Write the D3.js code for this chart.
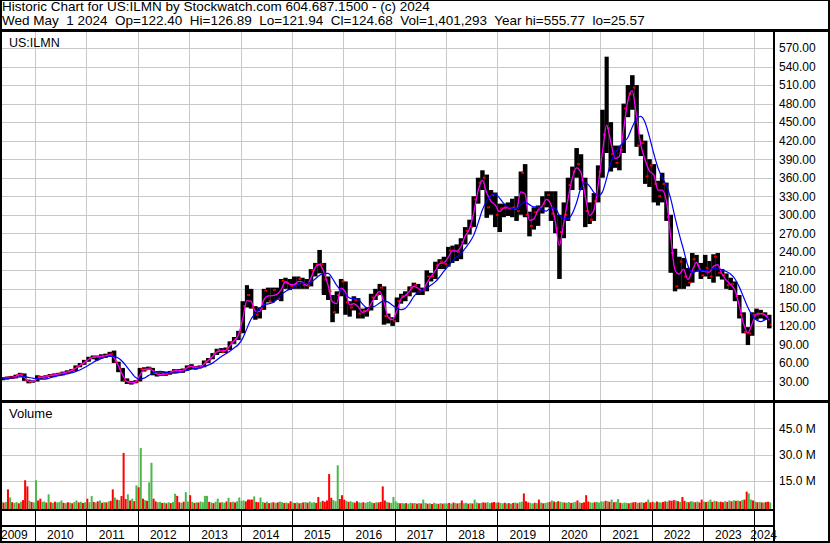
<!DOCTYPE html>
<html>
<head>
<meta charset="utf-8">
<script src="https://cdnjs.cloudflare.com/ajax/libs/d3/7.8.5/d3.min.js"></script>
<style>
  body { margin: 0; background: #fff; }
  svg text { font-family: "Liberation Sans", Arial, sans-serif; fill: #000; }
</style>
</head>
<body>
<svg id="chart"></svg>
<script>
// monthly bars May 2009 .. Apr 2024 (visible high / low / close)
var priceHigh = [37,38,39,41,44,43,33,32,
  40,39,40,42,43,44,46,48,50,56,60,65,
  70,72,72,74,75,78,80,62,52,35,31,32,
  52,53,54,52,45,45,46,47,50,50,51,56,
  58,55,56,64,68,76,83,84,85,95,102,112,
  160,186,180,152,150,180,182,182,182,196,198,196,
  200,200,198,196,212,222,243,222,200,170,176,196,
  192,160,168,165,148,150,172,180,188,184,140,134,
  166,172,176,184,190,188,182,210,206,224,228,232,
  248,250,252,262,280,292,330,360,372,365,340,336,
  318,318,320,326,330,370,382,305,312,315,330,338,
  338,338,300,320,360,378,408,398,360,320,335,380,
  470,556,450,412,412,480,510,526,510,430,420,390,
  382,355,368,352,300,245,232,230,214,238,235,222,
  235,225,236,238,212,205,198,192,170,142,118,142,
  148,146,142,138];
var priceLow = [32,33,34,35,38,31,27,28,
  30,34,35,37,37,39,40,42,44,47,53,57,
  62,66,64,67,68,70,60,45,30,26,25,27,
  30,46,49,40,38,39,39,41,44,44,44,48,
  50,49,51,53,60,66,73,76,76,81,91,97,
  108,150,148,130,132,146,158,158,162,160,180,178,
  180,180,180,180,184,200,205,170,162,126,140,168,
  138,135,145,132,132,135,145,162,170,122,124,120,
  126,156,160,168,174,170,170,176,192,196,212,212,
  216,222,225,228,252,268,280,318,340,295,300,280,
  272,296,298,296,290,300,296,265,276,282,302,312,
  290,270,196,262,290,340,360,340,280,285,290,320,
  360,400,370,376,372,400,458,470,410,395,350,345,
  320,315,320,290,206,176,180,180,184,190,208,196,
  200,196,190,200,195,180,178,160,132,108,89,104,
  130,132,130,116];
var priceClose = [35,37,36,40,42,32,29,31,
  38,36,39,40,41,43,44,46,49,54,58,63,
  68,70,70,71,72,75,62,50,31,29,28,30,
  50,49,52,44,41,42,42,46,48,47,49,55,
  54,52,54,62,66,75,81,78,82,93,99,110,
  152,170,150,138,148,177,160,178,164,193,190,185,
  188,196,186,185,210,219,220,195,176,142,170,192,
  158,150,162,140,144,145,166,170,182,136,132,128,
  160,168,170,182,186,176,178,200,200,218,224,220,
  242,242,240,256,274,280,325,352,360,312,332,300,
  310,312,310,312,306,368,300,282,304,310,318,332,
  302,278,272,300,348,370,382,356,306,292,322,370,
  430,440,398,384,405,472,496,506,412,416,362,380,
  350,330,350,296,238,184,224,200,190,228,218,202,
  214,200,232,206,202,186,188,168,138,110,108,138,
  140,140,136,122];

// short average (magenta) and long average (blue), one reading per month
var maShort = [35,36,36.5,38,41,37,30.5,30,
  34.5,37,37.5,39.5,40.5,42,43.5,45,47.5,51.5,56,60.5,
  65.5,69,70,70.5,71.5,73.5,68.5,56,40.5,30,28.5,29,
  40,49.5,50.5,48,42.5,41.5,42,44,47,47.5,48,52,
  54.5,53,53,58,64,70.5,78,79.5,80,87.5,96,104.5,
  131,161,160,144,143,162.5,168.5,169,171,178.5,191.5,187.5,
  186.5,192,191,185.5,197.5,214.5,219.5,207.5,185.5,159,156,181,
  175,154,156,151,142,144.5,155.5,168,176,159,134,130,
  144,164,169,176,184,181,177,189,200,209,221,222,
  231,242,241,248,265,277,302,338,356,336,322,316,
  305,311,311,311,309,337,334,291,293,307,314,325,
  317,290,250,286,324,359,376,369,331,299,307,346,
  400,445,419,391,394,438,484,501,459,414,389,371,
  365,340,340,323,267,211,204,212,195,209,223,210,
  208,207,216,219,204,194,187,178,153,124,109,123,
  139,140,138,129];
var maLong = [35,35.5,35.8,36.5,37.3,37.7,36.6,35.3,
  34.6,33.8,33.9,35.7,37.8,39.3,40.6,42.1,43.7,45.9,48.7,52.1,
  56.2,60.5,64.2,67.1,69.3,70.9,70.8,68,62,53.7,44.7,36.8,
  33.6,35.4,39.5,43.4,46.1,46.4,44.9,43.6,43.4,44.4,45.7,47.7,
  49.8,51,52.1,54.1,56.5,59.7,64.7,70,74.4,79.1,84.2,89.5,
  99.8,116,130.5,140.1,147.8,154.1,155.6,157.4,162.8,169.9,175.7,179.5,
  183,187.2,189.7,188.5,190.5,196.1,201.6,204.9,204.9,197.2,185.5,177.8,
  171.3,165,164.4,163.4,155.6,149.5,149.8,152.2,157.2,160.6,158.5,153.4,
  148.6,146.2,148.2,156.6,167.4,174.8,177.4,181.4,186.2,191.2,199.2,208.2,
  216.6,225,231.4,236.8,245.4,254.6,266.6,286,307.6,321.8,330.8,333.6,
  327,318,313,310.8,309.4,315.8,320.4,316.4,312.8,312.4,307.8,306,
  311.2,310.6,299.2,293.6,293.4,301.8,319,342.8,351.8,346.8,336.4,330.4,
  336.6,359.4,383.4,400.2,409.8,417.4,425.2,441.6,455.2,459.2,449.4,426.8,
  399.6,375.8,361,347.8,327,296.2,269,243.4,217.8,206.2,208.6,209.8,
  209,211.4,212.8,212,210.8,208,204,196.4,183.2,167.2,150.2,137.4,
  129.6,127,129.8,133.8];

// volume, millions of shares, two readings per month (tallest visible bar)
var volume = [3.5,2.8,3.2,10.3,5.7,3,2.6,3.1,2.4,3.3,4.2,15.5,12,3.8,3.1,2.9,
  15.5,4,5,3.2,3.4,2.8,7.5,3,2.6,3.3,2.9,3.1,4,2.7,2.5,3,2.8,2.4,3.2,4,2.9,3.3,2.6,3,
  5,3,6.5,3.2,2.8,3.5,4,2.7,3.1,2.9,3.4,3.8,10.3,5.7,4.5,4.2,6.5,31,4.8,7.5,4,5,3.6,12.6,
  11.5,33.8,5,4.2,3.8,14.3,25.4,5,3.5,3,3.2,2.6,2.8,2.4,3,2.5,3.1,7.8,6.6,3,2.7,3.3,8.7,3.4,
  7,3.2,2.6,3,2.8,3.4,3,6.6,6.6,3.2,2.9,2.5,3.3,5,2.8,3.1,2.7,3.4,5.5,3,3.3,2.9,3.6,5.7,
  3.8,4,3.5,4.5,4.5,4.5,6.3,3.2,3,5.7,3.1,2.7,3.3,2.5,2.8,3,2.6,2.9,3.4,3,2.6,2.8,2.4,3.5,
  2.8,2.5,2.9,2.4,2.6,2.9,3.1,2.7,3.4,2.8,3,2.6,6,3.2,3.8,3.3,4,19,5.5,4.2,3.6,24,4.8,7,
  4.5,3.8,3.2,3.5,3,2.8,3.6,2.9,2.7,3,2.6,3.1,3.4,2.8,2.5,3,2.9,3.2,12,4,3.2,2.8,2.6,6,
  3.5,2.7,2.4,2.6,2.3,2.5,2.2,2.7,2.4,2.6,2.2,2.5,2.3,4.5,2.6,2.2,2.4,2,2.7,2.3,2.1,2.5,2.2,2.4,
  2.3,2.6,2.2,2.8,2.5,2.3,2.6,4,2.4,2.7,2.2,2.5,2.3,4.5,2.8,2.4,2.6,2.9,2.7,3,2.5,2.8,3.1,2.7,
  2.9,2.6,2.4,2.7,2.3,2.5,2.2,2.6,2.8,2.4,3,3.3,8,3.6,2.9,2.6,2.3,2.7,2.5,4.5,2.8,2.4,2.6,2.9,
  3.2,4,3.4,3.1,3.6,3.3,3,2.8,2.7,3.1,2.6,2.9,3.2,4,2.8,2.6,3,7,3.4,2.9,2.7,3,3.2,2.8,
  3.5,3.3,3.8,3.6,3.2,4.5,3,3.2,4.8,2.7,2.5,2.8,2.6,2.4,2.7,2.9,3.1,2.6,2.8,3,2.7,3.2,4.5,2.9,
  3.2,2.8,3.4,3,2.8,3.1,3.5,3.3,4,3.8,4.2,4,3.6,3.2,6,3.8,3.2,3,3.6,3.3,3,3.4,2.9,4.5,
  3.4,3.1,3.5,4.5,3.2,3.8,3.5,3.1,3.3,3,3.6,3.2,4,3.5,4.1,3.8,4,3.6,4.2,4.5,9,8,4.5,4,
  3.4,3,3.2,2.9,2.8,3.1,3.3,2.9];
// u = up day colour (green), d = down day colour (red)
var volumeDir = ("udud uduu dudd dudu " +
  "uddu udud uduu udud uduu dudu " +
  "duud udud udud dudu dddu dudu " +
  "dudu duud duud udud uudd uduu " +
  "dudu duuu udud uudu udud uduu " +
  "uudd ddud duud udud uduu dudd " +
  "udud udud uuud dudd dddu uudd " +
  "dudu uddu uduu uudu dddd uduu " +
  "uudu uduu dudu duud uduu dudu " +
  "udud udud uudu duud uddu uddu " +
  "duud udud uduu dddu udud uduu " +
  "dudu duud uudu udud dddu uduu " +
  "uudu dudu uduu udud dudu ddud " +
  "dudu uddu dddu dudd uduu dudd " +
  "uduu dudu ddud udud udud duud " +
  "udud uddu").replace(/ /g, "").split("");

var priceTicks = [30, 60, 90, 120, 150, 180, 210, 240, 270, 300, 330, 360, 390, 420, 450, 480, 510, 540, 570];
var volumeTicks = [15, 30, 45];
var years = [2009, 2010, 2011, 2012, 2013, 2014, 2015, 2016, 2017, 2018, 2019, 2020, 2021, 2022, 2023, 2024];

var symbol = "US:ILMN";
var headerLine1 = "Historic Chart for US:ILMN by Stockwatch.com 604.687.1500 - (c) 2024";
var headerLine2 = "Wed May  1 2024  Op=122.40  Hi=126.89  Lo=121.94  Cl=124.68  Vol=1,401,293  Year hi=555.77  lo=25.57";

function drawChart() {
  var width = 830;
  var height = 543;
  var svg = d3.select("#chart").attr("width", width).attr("height", height);

  var plotLeft = 2, plotRight = 773;
  var priceTop = 32, priceBottom = 400;
  var volTop = 403, volBottom = 509;

  var start = new Date(2009, 4, 1);
  var end = new Date(2024, 4, 1);

  var x = d3.scaleTime().domain([start, end]).range([0.5, 771.3]);
  var y = d3.scaleLinear().domain([0, 600]).range([400, 29.5]);
  var yVol = d3.scaleLinear().domain([0, 45]).range([507.5, 428.3]);

  var months = d3.timeMonth.range(start, end);
  var bars = months.map(function(m, i) {
    return { date: m, next: d3.timeMonth.offset(m, 1), mid: d3.timeDay.offset(m, 15),
             hi: priceHigh[i], lo: priceLow[i], cl: priceClose[i],
             op: i > 0 ? priceClose[i - 1] : priceClose[i],
             s: maShort[i], l: maLong[i] };
  });
  var halves = [];
  months.forEach(function(m) { halves.push(m); halves.push(d3.timeDay.offset(m, 15)); });
  var vols = halves.map(function(d, i) { return { date: d, v: volume[i], dir: volumeDir[i] }; });

  var yearStarts = years.slice(1).map(function(yr) { return new Date(yr, 0, 1); });

  svg.append("rect").attr("width", width).attr("height", height).attr("fill", "#fff");

  svg.append("defs").append("clipPath").attr("id", "clipPrice")
    .append("rect").attr("x", plotLeft).attr("y", priceTop)
    .attr("width", plotRight - plotLeft).attr("height", priceBottom - priceTop);
  svg.select("defs").append("clipPath").attr("id", "clipVol")
    .append("rect").attr("x", plotLeft).attr("y", volTop)
    .attr("width", plotRight - plotLeft).attr("height", volBottom - volTop);

  // grid
  var grid = svg.append("g").attr("stroke", "#c8c8c8").attr("stroke-width", 1).attr("shape-rendering", "crispEdges");
  grid.selectAll(".hp").data(priceTicks).enter().append("line")
    .attr("x1", plotLeft).attr("x2", plotRight)
    .attr("y1", function(d) { return Math.round(y(d)) + 0.5; })
    .attr("y2", function(d) { return Math.round(y(d)) + 0.5; });
  grid.selectAll(".hv").data(volumeTicks).enter().append("line")
    .attr("x1", plotLeft).attr("x2", plotRight)
    .attr("y1", function(d) { return Math.round(yVol(d)) + 0.5; })
    .attr("y2", function(d) { return Math.round(yVol(d)) + 0.5; });
  grid.selectAll(".vp").data(yearStarts).enter().append("line")
    .attr("x1", function(d) { return Math.round(x(d)) + 0.5; })
    .attr("x2", function(d) { return Math.round(x(d)) + 0.5; })
    .attr("y1", priceTop).attr("y2", priceBottom);
  grid.selectAll(".vv").data(yearStarts).enter().append("line")
    .attr("x1", function(d) { return Math.round(x(d)) + 0.5; })
    .attr("x2", function(d) { return Math.round(x(d)) + 0.5; })
    .attr("y1", volTop).attr("y2", volBottom);

  // price bars: black range, red marks at open (left) and close (right)
  var price = svg.append("g").attr("clip-path", "url(#clipPrice)");
  price.selectAll(".bar").data(bars).enter().append("rect")
    .attr("x", function(d) { return x(d.date); })
    .attr("width", function(d) { return x(d.next) - x(d.date) + 0.2; })
    .attr("y", function(d) { return y(d.hi); })
    .attr("height", function(d) { return y(d.lo) - y(d.hi); })
    .attr("fill", "#000");
  price.selectAll(".cl").data(bars).enter().append("rect")
    .attr("x", function(d) { return x(d.next) - 1.6; })
    .attr("width", 1.5)
    .attr("y", function(d) { return y(d.cl) - 1; })
    .attr("height", 2)
    .attr("fill", "#ff0000");
  price.selectAll(".op").data(bars).enter().append("rect")
    .attr("x", function(d) { return x(d.date); })
    .attr("width", 1.2)
    .attr("y", function(d) { return y(d.op) - 1; })
    .attr("height", 2)
    .attr("fill", "#ff0000");

  var lineShort = d3.line().x(function(d) { return x(d.mid); }).y(function(d) { return y(d.s); }).curve(d3.curveMonotoneX);
  var lineLong = d3.line().x(function(d) { return x(d.mid); }).y(function(d) { return y(d.l); }).curve(d3.curveMonotoneX);
  price.append("path").attr("d", lineShort(bars)).attr("fill", "none").attr("stroke", "#ff00ff").attr("stroke-width", 1.3);
  price.append("path").attr("d", lineLong(bars)).attr("fill", "none").attr("stroke", "#0000ff").attr("stroke-width", 1.2);

  // volume bars
  var vol = svg.append("g").attr("clip-path", "url(#clipVol)");
  vol.selectAll("rect").data(vols).enter().append("rect")
    .attr("x", function(d) { return x(d.date); })
    .attr("width", 2)
    .attr("y", function(d) { return yVol(d.v); })
    .attr("height", function(d) { return yVol(0) - yVol(d.v) + 1.5; })
    .attr("fill", function(d) { return d.dir === "u" ? "#4cb84c" : "#ff0000"; });

  // right axes
  var priceAxis = svg.append("g").attr("transform", "translate(" + plotRight + ",0)")
    .call(d3.axisRight(y).tickValues(priceTicks).tickFormat(d3.format(".2f")).tickSize(0).tickPadding(6));
  var volAxis = svg.append("g").attr("transform", "translate(" + plotRight + ",0)")
    .call(d3.axisRight(yVol).tickValues(volumeTicks).tickFormat(function(d) { return d.toFixed(1) + " M"; }).tickSize(0).tickPadding(6));
  [priceAxis, volAxis].forEach(function(a) {
    a.select(".domain").remove();
    a.attr("font-family", null).attr("font-size", null);
    a.selectAll("text").style("font-size", "12px").attr("fill", "#000");
  });

  // frame
  var frame = svg.append("g").attr("fill", "#000");
  frame.append("rect").attr("x", 0).attr("y", 0).attr("width", width).attr("height", 1);
  frame.append("rect").attr("x", 0).attr("y", 29).attr("width", width).attr("height", 3);
  frame.append("rect").attr("x", 0).attr("y", 400).attr("width", width).attr("height", 3);
  frame.append("rect").attr("x", 0).attr("y", 509).attr("width", plotRight + 2).attr("height", 2);
  frame.append("rect").attr("x", 0).attr("y", 525).attr("width", plotRight + 2).attr("height", 2);
  frame.append("rect").attr("x", 0).attr("y", 541).attr("width", width).attr("height", 2);
  frame.append("rect").attr("x", 0).attr("y", 0).attr("width", 2).attr("height", height);
  frame.append("rect").attr("x", 828).attr("y", 0).attr("width", 2).attr("height", height);
  frame.append("rect").attr("x", plotRight).attr("y", 29).attr("width", 2).attr("height", height - 29);

  // year ticks and labels
  var xaxis = svg.append("g").attr("stroke", "#000").attr("shape-rendering", "crispEdges");
  xaxis.selectAll(".t1").data(yearStarts).enter().append("line")
    .attr("x1", function(d) { return Math.round(x(d)) + 0.5; })
    .attr("x2", function(d) { return Math.round(x(d)) + 0.5; })
    .attr("y1", 511).attr("y2", 525);
  xaxis.selectAll(".t2").data(yearStarts).enter().append("line")
    .attr("x1", function(d) { return Math.round(x(d)) + 0.5; })
    .attr("x2", function(d) { return Math.round(x(d)) + 0.5; })
    .attr("y1", 527).attr("y2", 541);

  var labels = svg.append("g").style("font-size", "12px").attr("text-anchor", "middle");
  labels.selectAll("text").data(years).enter().append("text")
    .attr("y", 539)
    .text(function(d) { return d; })
    .attr("x", function(d) {
      var w = this.getComputedTextLength();
      var c = x(new Date(d, 6, 1));
      return Math.max(1 + w / 2, Math.min(777 - w / 2, c));
    });

  // header and panel titles
  svg.append("text").attr("x", 2).attr("y", 11).style("font-size", "13.5px")
    .attr("xml:space", "preserve").style("white-space", "pre").text(headerLine1);
  svg.append("text").attr("x", 2).attr("y", 24.5).style("font-size", "13.5px")
    .attr("xml:space", "preserve").style("white-space", "pre").text(headerLine2);
  svg.append("text").attr("x", 9).attr("y", 46.5).style("font-size", "12.5px").text(symbol);
  svg.append("text").attr("x", 9).attr("y", 418).style("font-size", "13px").text("Volume");
}

drawChart();
</script>
</body>
</html>
